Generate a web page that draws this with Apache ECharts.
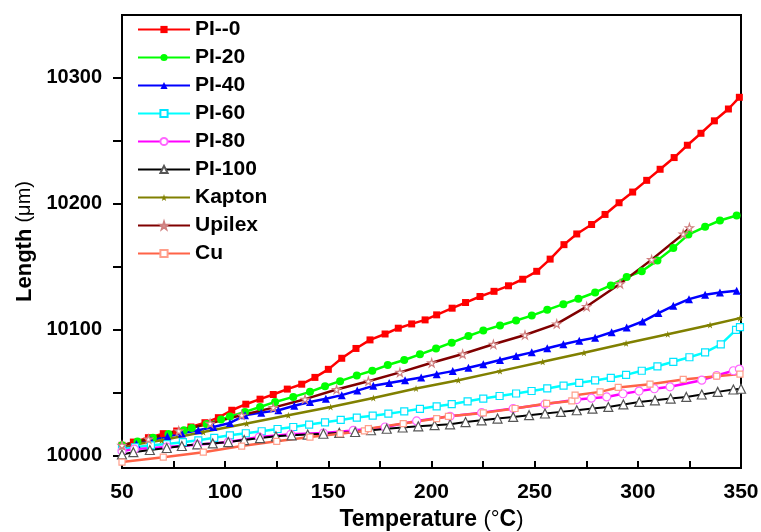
<!DOCTYPE html>
<html>
<head>
<meta charset="utf-8">
<script src="https://cdn.jsdelivr.net/npm/echarts@6/dist/echarts.min.js"></script>
<style>
  html, body { margin: 0; padding: 0; background: #fff; }
  #main { width: 761px; height: 532px; }
</style>
</head>
<body>
<div id="main"></div>
<script>
  // [temperature (°C), length (µm)]
  var pi0 = [[50,10008],[55.5,10010.6],[62.8,10014.1],[70,10017.3],[76.5,10019.4],[83.4,10022.6],[90.2,10026],[96.7,10030],[103.2,10035.9],[110,10040.7],[116.9,10044.7],[123.3,10048.4],[130.1,10052.7],[137.1,10056.6],[143.5,10062],[150,10068.4],[156.5,10077.2],[163.4,10085],[170.2,10091.8],[177.5,10096.5],[183.9,10101.1],[190.4,10104.5],[196.9,10107.7],[202.5,10111.7],[210,10117],[216.5,10121.5],[223.5,10126.3],[230.3,10130.4],[237.3,10134.8],[244.2,10140],[251,10146.3],[257.5,10156],[264.2,10167.5],[270.4,10176],[277.6,10183.5],[284.1,10191.5],[290.9,10200.8],[297.5,10209.3],[304.3,10218.6],[310.8,10227.4],[317.6,10236.7],[324,10246.5],[330.6,10256],[337.1,10265.9],[343.9,10275.3],[349.2,10284.6]];
  var pi20 = [[50,10008],[57.5,10011],[65,10014],[72.5,10017],[80,10020],[83.8,10021.8],[91,10025],[98,10028.5],[102.3,10031],[109.6,10034.6],[116.9,10038.5],[124.2,10042.5],[133,10046.5],[141.1,10050.5],[148.4,10055],[155.7,10059],[163.8,10063.6],[171.3,10067.3],[178.8,10071.8],[186.8,10075.8],[194.4,10080.3],[202.2,10085],[209.8,10089.6],[217.9,10094.9],[225.1,10099.2],[233.2,10103.2],[241,10107.2],[248.6,10111.1],[256.1,10115.7],[263.9,10120.2],[271.2,10124.5],[279.3,10129.5],[286.9,10135.1],[294.6,10141.8],[301.9,10146.3],[309.5,10155],[317.2,10164.9],[324.5,10175.5],[332.6,10181.7],[339.8,10186.7],[347.9,10190.7]];
  var pi40 = [[50,10006],[57,10009],[64,10012],[72,10015],[79,10017.5],[87,10020],[94.3,10022.6],[102.3,10025.8],[109.6,10031.9],[117.5,10034],[125.8,10035.9],[133.5,10039.5],[141.1,10042.5],[148.8,10045],[156.5,10047.9],[164,10051.5],[171.8,10055.3],[179.5,10057.5],[187.2,10059.8],[195,10062],[202.5,10064.6],[210.3,10067],[217.9,10069.7],[225.1,10072.4],[233.2,10075.8],[241,10079],[248.6,10081.9],[256.1,10085.1],[263.9,10088.3],[271.6,10091.2],[279.3,10093.6],[287.3,10097.9],[294.6,10101.6],[302.3,10106.4],[310,10113.1],[317.2,10118.9],[324.8,10124.2],[332.6,10127.7],[339.8,10129.5],[347.9,10130.9]];
  var pi60 = [[50,10004.8],[56.3,10006.5],[64,10008],[71.7,10009],[79.5,10010.5],[87,10012],[94.7,10014],[102.3,10016],[110,10017.6],[117.7,10019.2],[125.4,10021],[133,10022.6],[140.7,10024.5],[148.4,10026.3],[156,10028.2],[163.8,10030.1],[171.5,10031.6],[179.1,10033.2],[186.8,10035],[194.4,10037],[202.5,10039],[209.8,10040.7],[217.5,10043],[225.1,10045.2],[233,10047.2],[241,10049.2],[248.5,10051.2],[256.1,10053.2],[264,10055.5],[271.6,10057.7],[279.3,10059.6],[286.9,10061.7],[294.3,10064],[301.9,10067.3],[309.5,10070.8],[317.2,10074.4],[325,10078],[332.6,10081.9],[340.2,10088.3],[347.6,10099.7],[349.5,10102]];
  var pi80 = [[50,10003.5],[56,10005],[71.7,10006.7],[86.5,10008.5],[101.5,10010.6],[116.5,10014.6],[131.8,10016.8],[147.6,10017.8],[162.1,10019.9],[177.5,10022.6],[192.8,10027.4],[209,10031.1],[224.3,10034],[239.6,10037.3],[255,10040.7],[270.4,10044.4],[277.5,10045.5],[284.9,10046.5],[292.8,10049],[300.6,10051.1],[308,10053],[315.6,10054.5],[331,10059.8],[338.2,10063.5],[346.3,10067.3],[349.2,10068.6]];
  var pi100 = [[50,10000.8],[55.5,10002.6],[63.5,10004.3],[71.7,10005.9],[79,10007.5],[86.5,10008.8],[94,10009.5],[101.5,10010.6],[109.2,10012.2],[116.9,10013.8],[124.6,10015.2],[132.2,10016],[140,10016.6],[147.6,10017.2],[155.3,10017.9],[163,10018.6],[170.7,10020],[178.3,10021.2],[186,10022.2],[193.6,10023.1],[201.5,10024],[209,10024.7],[216.5,10026.5],[224.3,10027.9],[232,10029.3],[239.6,10030.6],[247.3,10032],[255,10033.3],[262.7,10034.6],[270.4,10035.9],[278,10037.2],[285.7,10038.5],[293,10040.5],[300.7,10042.5],[308.3,10043.8],[315.9,10045.2],[323.5,10046.5],[331,10048.4],[338.7,10050.5],[346.3,10052.4],[350,10053]];
  var kapton = [[50,10007],[69.2,10012],[89.4,10018.6],[110.4,10025.3],[130.6,10031.9],[151.1,10038.5],[171.8,10045.7],[192.5,10053.2],[213,10059.8],[233.2,10067],[253.9,10074.4],[273.9,10081.6],[294.3,10089.1],[314.5,10096.3],[335,10103.7],[349.5,10109.1]];
  var upilex = [[50,10008],[62.8,10013],[77.5,10019.5],[92.7,10025.5],[108,10032],[123.3,10038],[138.7,10044.7],[154,10052.4],[169.4,10059],[184.7,10066],[200.1,10073.6],[215.1,10080.6],[230,10088.3],[245.3,10095.7],[260.7,10104.5],[275.2,10118.3],[291.4,10136.4],[306.7,10155.6],[322,10176],[325,10181]];
  var cu = [[50,9994.7],[70,9998.6],[89.4,10002.6],[108,10007.4],[125,10011.2],[141.1,10014.6],[155.7,10017.2],[167.5,10019.5],[169.4,10021.3],[186.3,10025.3],[202.5,10029.3],[208.2,10031.1],[225.1,10033.8],[240.5,10037.3],[255.8,10041.3],[268,10043.3],[269.6,10047.9],[281.7,10050.5],[290.5,10054],[305.9,10056.6],[322,10060.4],[338.2,10063],[349.5,10064.6]];

  var names = ['PI--0', 'PI-20', 'PI-40', 'PI-60', 'PI-80', 'PI-100', 'Kapton', 'Upilex', 'Cu'];
  var xTicks = [50, 100, 150, 200, 250, 300, 350];
  var yTicks = [10000, 10100, 10200, 10300];
  var yMinor = [10050, 10150, 10250];

  var star = 'path://M50,0 L61,35 L98,35 L68,57 L79,91 L50,70 L21,91 L32,57 L2,35 L39,35 Z';

  function line(name, data, color, width, symbol, size, fill, border) {
    return {
      name: name,
      type: 'line',
      data: data,
      symbol: symbol,
      symbolSize: size,
      showSymbol: true,
      lineStyle: { color: color, width: width },
      itemStyle: { color: fill, borderColor: border || fill, borderWidth: border ? 1.2 : 0 },
      emphasis: { disabled: true },
      animation: false
    };
  }

  var myChart = echarts.init(document.getElementById('main'));
  var option = {
    backgroundColor: '#fff',
    animation: false,
    grid: {
      left: 122, right: 20, top: 15, bottom: 64,
      outerBoundsMode: 'none',
      show: true, borderColor: '#000', borderWidth: 2
    },
    legend: {
      data: names,
      orient: 'vertical',
      left: 132,
      top: 14,
      itemWidth: 52,
      itemHeight: 9,
      itemGap: 7,
      textStyle: { fontFamily: 'Liberation Sans', fontWeight: 'bold', fontSize: 21, color: '#000' }
    },
    xAxis: {
      type: 'value',
      min: 50,
      max: 350,
      interval: 25,
      name: '{b|Temperature }{n|(°}{b|C}{n|)}',
      nameLocation: 'middle',
      nameGap: 40,
      nameTextStyle: {
        rich: {
          b: { fontFamily: 'Liberation Sans', fontWeight: 'bold', fontSize: 23, color: '#000' },
          n: { fontFamily: 'Liberation Sans', fontSize: 22, color: '#000' }
        }
      },
      axisLine: { lineStyle: { color: '#000', width: 2 } },
      axisTick: { inside: true, length: 7, lineStyle: { color: '#000', width: 2 } },
      axisLabel: {
        margin: 14,
        color: '#000',
        fontFamily: 'Liberation Sans',
        fontWeight: 'bold',
        fontSize: 21,
        formatter: function (v) { return xTicks.indexOf(v) >= 0 ? String(v) : ''; }
      },
      splitLine: { show: false }
    },
    yAxis: {
      type: 'value',
      min: 9990,
      max: 10350,
      interval: 10,
      name: '{b|Length }{n|(μm)}',
      nameLocation: 'middle',
      nameGap: 84,
      nameTextStyle: {
        rich: {
          b: { fontFamily: 'Liberation Sans', fontWeight: 'bold', fontSize: 22, color: '#000' },
          n: { fontFamily: 'Liberation Sans', fontSize: 20, color: '#000' }
        }
      },
      axisLine: { show: true, lineStyle: { color: '#000', width: 2 } },
      axisTick: { show: true, length: 9, customValues: yTicks.concat(yMinor), lineStyle: { color: '#000', width: 2 } },
      axisLabel: {
        margin: 20,
        color: '#000',
        fontFamily: 'Liberation Sans',
        fontWeight: 'bold',
        fontSize: 20,
        customValues: yTicks,
        formatter: function (v) { return String(v); }
      },
      splitLine: { show: false }
    },
    series: [
      line('PI--0', pi0, '#ff0000', 2.5, 'rect', 7, '#ff0000'),
      line('PI-20', pi20, '#00ff00', 2.5, 'circle', 8, '#00ff00'),
      line('PI-40', pi40, '#0000ff', 2.5, 'triangle', 8, '#0000ff'),
      line('PI-60', pi60, '#00ffff', 2.5, 'rect', 7, '#ffffff', '#00e5ff'),
      line('PI-80', pi80, '#ff00ff', 2.5, 'circle', 8, '#ffffff', '#ff66ff'),
      line('PI-100', pi100, '#000000', 2, 'triangle', 9, '#ffffff', '#555555'),
      line('Kapton', kapton, '#808000', 2.5, star, 7, '#808000'),
      line('Upilex', upilex, '#800000', 2.5, star, 8, '#ffffff', '#d08080'),
      line('Cu', cu, '#ff6347', 2.5, 'rect', 6, '#ffffff', '#ff9e8a')
    ]
  };
  myChart.setOption(option);
</script>
</body>
</html>
